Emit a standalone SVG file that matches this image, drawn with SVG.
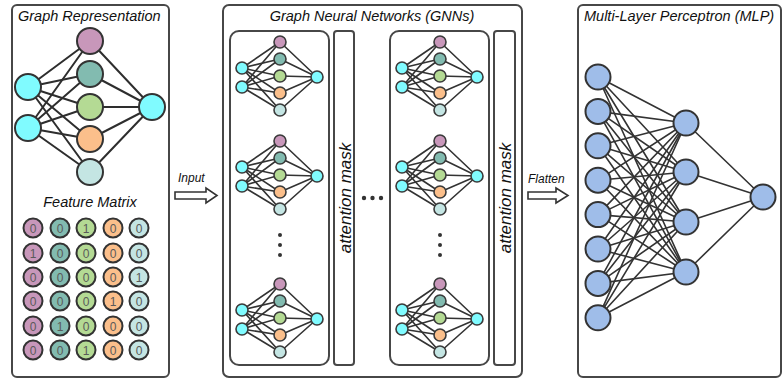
<svg xmlns="http://www.w3.org/2000/svg" xmlns:xlink="http://www.w3.org/1999/xlink" width="782" height="381" viewBox="0 0 782 381">
  <style>
    .panel { fill: #ffffff; stroke: #474747; stroke-width: 2; }
    .inner { fill: #ffffff; stroke: #474747; stroke-width: 2; }
    .title { font-family: "Liberation Sans", Arial, sans-serif; font-style: italic; font-size: 14.5px; fill: #111; }
    .lbl { font-family: "Liberation Sans", Arial, sans-serif; font-style: italic; font-size: 12px; fill: #111; }
    .mask { font-family: "Liberation Sans", Arial, sans-serif; font-style: italic; font-size: 17px; fill: #111; }
    .cell { font-family: "Liberation Sans", Arial, sans-serif; font-size: 12px; fill: #5a5a5a; text-anchor: middle; }
    .edge { stroke: #2e2e2e; stroke-width: 2; fill: none; }
    .edge-s { stroke: #333; stroke-width: 1.6; fill: none; }
    .nd { stroke: #333; stroke-width: 2; }
    .nd-s { stroke: #3a3a3a; stroke-width: 1.6; }
    .cyan { fill: #80fbff; }
    .pur { fill: #c897ba; }
    .tea { fill: #82bbb0; }
    .grn { fill: #b4da94; }
    .ora { fill: #fbbf8b; }
    .lig { fill: #c4e5e3; }
    .blu { fill: #9fbde9; }
    .dot { fill: #333; }
    .arrow { fill: #ffffff; stroke: #333; stroke-width: 1.6; stroke-linejoin: miter; }
  </style>
  <defs>
    <!-- one small message-passing network: 2 inputs, 5 hidden, 1 output -->
    <g id="mini-gnn">
      <g class="edge-s">
        <path d="M242 68L280 42M242 68L280 59M242 68L280 76M242 68L280 93M242 68L280 110"/>
        <path d="M242 87L280 42M242 87L280 59M242 87L280 76M242 87L280 93M242 87L280 110"/>
        <path d="M280 42L317 77M280 59L317 77M280 76L317 77M280 93L317 77M280 110L317 77"/>
      </g>
      <circle class="nd-s cyan" cx="242" cy="68" r="6"/>
      <circle class="nd-s cyan" cx="242" cy="87" r="6"/>
      <circle class="nd-s pur" cx="280" cy="42" r="6"/>
      <circle class="nd-s tea" cx="280" cy="59" r="6"/>
      <circle class="nd-s grn" cx="280" cy="76" r="6"/>
      <circle class="nd-s ora" cx="280" cy="93" r="6"/>
      <circle class="nd-s lig" cx="280" cy="110" r="6"/>
      <circle class="nd-s cyan" cx="317" cy="77" r="6"/>
    </g>
  </defs>

  <!-- Graph representation panel -->
  <g id="graph-panel">
    <rect class="panel" x="12" y="5" width="157" height="372" rx="5"/>
    <text class="title" x="18" y="21">Graph Representation</text>
    <g class="edge">
      <path d="M28 87L90 41M28 87L90 74M28 87L90 107M28 87L90 139M28 87L90 172"/>
      <path d="M28 128L90 41M28 128L90 74M28 128L90 107M28 128L90 139M28 128L90 172"/>
      <path d="M90 41L152 107M90 74L152 107M90 107L152 107M90 139L152 107M90 172L152 107"/>
    </g>
    <g id="g-in1"><circle class="nd cyan" cx="28" cy="87" r="13"/></g>
    <g id="g-in2"><circle class="nd cyan" cx="28" cy="128" r="13"/></g>
    <g id="g-n1"><circle class="nd pur" cx="90" cy="41" r="13"/></g>
    <g id="g-n2"><circle class="nd tea" cx="90" cy="74" r="13"/></g>
    <g id="g-n3"><circle class="nd grn" cx="90" cy="107" r="13"/></g>
    <g id="g-n4"><circle class="nd ora" cx="90" cy="139" r="13"/></g>
    <g id="g-n5"><circle class="nd lig" cx="90" cy="172" r="13"/></g>
    <g id="g-out"><circle class="nd cyan" cx="152" cy="107" r="13"/></g>

    <text class="title" x="90" y="207" text-anchor="middle">Feature Matrix</text>
    <g id="feature-matrix">
      <!-- columns: purple, teal, green, orange, light -->
      <g class="nd">
        <circle class="pur" cx="33" cy="228" r="9.5"/><circle class="tea" cx="60" cy="228" r="9.5"/><circle class="grn" cx="86" cy="228" r="9.5"/><circle class="ora" cx="113" cy="228" r="9.5"/><circle class="lig" cx="139" cy="228" r="9.5"/>
        <circle class="pur" cx="33" cy="253" r="9.5"/><circle class="tea" cx="60" cy="253" r="9.5"/><circle class="grn" cx="86" cy="253" r="9.5"/><circle class="ora" cx="113" cy="253" r="9.5"/><circle class="lig" cx="139" cy="253" r="9.5"/>
        <circle class="pur" cx="33" cy="277" r="9.5"/><circle class="tea" cx="60" cy="277" r="9.5"/><circle class="grn" cx="86" cy="277" r="9.5"/><circle class="ora" cx="113" cy="277" r="9.5"/><circle class="lig" cx="139" cy="277" r="9.5"/>
        <circle class="pur" cx="33" cy="301" r="9.5"/><circle class="tea" cx="60" cy="301" r="9.5"/><circle class="grn" cx="86" cy="301" r="9.5"/><circle class="ora" cx="113" cy="301" r="9.5"/><circle class="lig" cx="139" cy="301" r="9.5"/>
        <circle class="pur" cx="33" cy="326" r="9.5"/><circle class="tea" cx="60" cy="326" r="9.5"/><circle class="grn" cx="86" cy="326" r="9.5"/><circle class="ora" cx="113" cy="326" r="9.5"/><circle class="lig" cx="139" cy="326" r="9.5"/>
        <circle class="pur" cx="33" cy="350" r="9.5"/><circle class="tea" cx="60" cy="350" r="9.5"/><circle class="grn" cx="86" cy="350" r="9.5"/><circle class="ora" cx="113" cy="350" r="9.5"/><circle class="lig" cx="139" cy="350" r="9.5"/>
      </g>
      <g>
        <text class="cell" x="33" y="232.5">0</text><text class="cell" x="60" y="232.5">0</text><text class="cell" x="86" y="232.5">1</text><text class="cell" x="113" y="232.5">0</text><text class="cell" x="139" y="232.5">0</text>
        <text class="cell" x="33" y="257.5">1</text><text class="cell" x="60" y="257.5">0</text><text class="cell" x="86" y="257.5">0</text><text class="cell" x="113" y="257.5">0</text><text class="cell" x="139" y="257.5">0</text>
        <text class="cell" x="33" y="281.5">0</text><text class="cell" x="60" y="281.5">0</text><text class="cell" x="86" y="281.5">0</text><text class="cell" x="113" y="281.5">0</text><text class="cell" x="139" y="281.5">1</text>
        <text class="cell" x="33" y="305.5">0</text><text class="cell" x="60" y="305.5">0</text><text class="cell" x="86" y="305.5">0</text><text class="cell" x="113" y="305.5">1</text><text class="cell" x="139" y="305.5">0</text>
        <text class="cell" x="33" y="330.5">0</text><text class="cell" x="60" y="330.5">1</text><text class="cell" x="86" y="330.5">0</text><text class="cell" x="113" y="330.5">0</text><text class="cell" x="139" y="330.5">0</text>
        <text class="cell" x="33" y="354.5">0</text><text class="cell" x="60" y="354.5">0</text><text class="cell" x="86" y="354.5">1</text><text class="cell" x="113" y="354.5">0</text><text class="cell" x="139" y="354.5">0</text>
      </g>
    </g>
  </g>

  <!-- Input arrow -->
  <g id="input-arrow">
    <text class="lbl" x="178" y="182">Input</text>
    <polygon class="arrow" points="175,192 206,192 206,188 217,195.5 206,203 206,199 175,199"/>
  </g>

  <!-- GNN panel -->
  <g id="gnn-panel">
    <rect class="panel" x="223" y="5" width="299" height="372" rx="6"/>
    <text class="title" x="372" y="21" text-anchor="middle">Graph Neural Networks (GNNs)</text>

    <g id="gnn-layer-1">
      <rect class="inner" x="230" y="31" width="99" height="334" rx="9"/>
      <use xlink:href="#mini-gnn"/>
      <use xlink:href="#mini-gnn" transform="translate(0,99)"/>
      <use xlink:href="#mini-gnn" transform="translate(0,242)"/>
      <circle class="dot" cx="280" cy="235" r="2"/>
      <circle class="dot" cx="280" cy="245" r="2"/>
      <circle class="dot" cx="280" cy="255" r="2"/>
    </g>
    <g id="mask-1">
      <rect class="inner" x="334" y="31" width="20" height="334" rx="3"/>
      <text class="mask" transform="translate(350.5,198) rotate(-90)" text-anchor="middle">attention mask</text>
    </g>

    <g id="layer-dots">
      <circle class="dot" cx="364" cy="198" r="2.2"/>
      <circle class="dot" cx="372.5" cy="198" r="2.2"/>
      <circle class="dot" cx="381" cy="198" r="2.2"/>
    </g>

    <g id="gnn-layer-n">
      <rect class="inner" x="390" y="31" width="99" height="334" rx="9"/>
      <use xlink:href="#mini-gnn" transform="translate(160,0)"/>
      <use xlink:href="#mini-gnn" transform="translate(160,99)"/>
      <use xlink:href="#mini-gnn" transform="translate(160,242)"/>
      <circle class="dot" cx="440" cy="235" r="2"/>
      <circle class="dot" cx="440" cy="245" r="2"/>
      <circle class="dot" cx="440" cy="255" r="2"/>
    </g>
    <g id="mask-n">
      <rect class="inner" x="494" y="31" width="21" height="334" rx="3"/>
      <text class="mask" transform="translate(511,198) rotate(-90)" text-anchor="middle">attention mask</text>
    </g>
  </g>

  <!-- Flatten arrow -->
  <g id="flatten-arrow">
    <text class="lbl" x="528" y="183">Flatten</text>
    <polygon class="arrow" points="528,192 556,192 556,188 568,195.5 556,203 556,199 528,199"/>
  </g>

  <!-- MLP panel -->
  <g id="mlp-panel">
    <rect class="panel" x="578" y="5" width="203" height="372" rx="5"/>
    <text class="title" x="584" y="21">Multi-Layer Perceptron (MLP)</text>
    <g id="mlp-edges" class="edge-s">
      <path d="M598 77L686 123M598 77L686 172M598 77L686 222M598 77L686 272"/>
      <path d="M598 111.4L686 123M598 111.4L686 172M598 111.4L686 222M598 111.4L686 272"/>
      <path d="M598 145.8L686 123M598 145.8L686 172M598 145.8L686 222M598 145.8L686 272"/>
      <path d="M598 180.2L686 123M598 180.2L686 172M598 180.2L686 222M598 180.2L686 272"/>
      <path d="M598 214.6L686 123M598 214.6L686 172M598 214.6L686 222M598 214.6L686 272"/>
      <path d="M598 249L686 123M598 249L686 172M598 249L686 222M598 249L686 272"/>
      <path d="M598 283.4L686 123M598 283.4L686 172M598 283.4L686 222M598 283.4L686 272"/>
      <path d="M598 317.8L686 123M598 317.8L686 172M598 317.8L686 222M598 317.8L686 272"/>
      <path d="M686 123L763 197M686 172L763 197M686 222L763 197M686 272L763 197"/>
    </g>
    <g id="mlp-in-1"><circle class="nd blu" cx="598" cy="77" r="12.5"/></g>
    <g id="mlp-in-2"><circle class="nd blu" cx="598" cy="111.4" r="12.5"/></g>
    <g id="mlp-in-3"><circle class="nd blu" cx="598" cy="145.8" r="12.5"/></g>
    <g id="mlp-in-4"><circle class="nd blu" cx="598" cy="180.2" r="12.5"/></g>
    <g id="mlp-in-5"><circle class="nd blu" cx="598" cy="214.6" r="12.5"/></g>
    <g id="mlp-in-6"><circle class="nd blu" cx="598" cy="249" r="12.5"/></g>
    <g id="mlp-in-7"><circle class="nd blu" cx="598" cy="283.4" r="12.5"/></g>
    <g id="mlp-in-8"><circle class="nd blu" cx="598" cy="317.8" r="12.5"/></g>
    <g id="mlp-h-1"><circle class="nd blu" cx="686" cy="123" r="12.5"/></g>
    <g id="mlp-h-2"><circle class="nd blu" cx="686" cy="172" r="12.5"/></g>
    <g id="mlp-h-3"><circle class="nd blu" cx="686" cy="222" r="12.5"/></g>
    <g id="mlp-h-4"><circle class="nd blu" cx="686" cy="272" r="12.5"/></g>
    <g id="mlp-out"><circle class="nd blu" cx="763" cy="197" r="12.5"/></g>
  </g>
</svg>
